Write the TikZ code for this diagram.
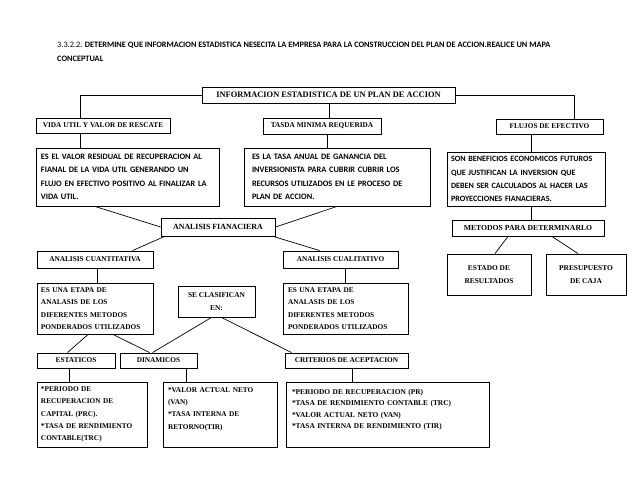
\documentclass[tikz,border=0pt]{standalone}
\usepackage{fontspec}
\setmainfont{Liberation Serif}
\newfontfamily\calfont{Carlito}
\begin{document}
\begin{tikzpicture}[x=1pt,y=-1pt,
  bx/.style={draw, line width=0.9pt, rectangle, inner sep=0pt},
  hdr/.style={bx, font=\bfseries\fontsize{7.3}{9}\selectfont, align=center},
  para/.style={bx, font=\calfont\bfseries\fontsize{8.3}{13.4}\selectfont, align=left},
  sblock/.style={bx, font=\bfseries\fontsize{7.3}{12.3}\selectfont, align=left},
  cn/.style={line width=0.7pt}]
\useasboundingbox[fill=white] (0,0) rectangle (638,493);

\node[anchor=north west, align=left, inner sep=0pt, font=\calfont\fontsize{8.3}{14}\selectfont] (title) at (57,41.5)
  {3.3.2.2. \textbf{DETERMINE QUE INFORMACION ESTADISTICA NESECITA LA EMPRESA PARA LA CONSTRUCCION DEL PLAN DE ACCION.REALICE UN MAPA}\\\textbf{CONCEPTUAL}};

\node[hdr, font=\bfseries\fontsize{8.4}{9}\selectfont, minimum width=253, minimum height=16] (info) at (328.5,95) {INFORMACION ESTADISTICA DE UN PLAN DE ACCION};
\node[hdr, minimum width=134, minimum height=15] (vida) at (103,125.5) {VIDA UTIL Y VALOR DE RESCATE};
\node[hdr, minimum width=118, minimum height=16] (tasda) at (322,126) {TASDA MINIMA REQUERIDA};
\node[hdr, minimum width=107, minimum height=15] (flujos) at (549.5,126.5) {FLUJOS DE EFECTIVO};

\node[para, minimum width=183, minimum height=58, text width=173] (valor) at (127.5,177)
  {ES EL VALOR RESIDUAL DE RECUPERACION AL\\FIANAL DE LA VIDA UTIL GENERANDO UN\\FLUJO EN EFECTIVO POSITIVO AL FINALIZAR LA\\VIDA UTIL.};
\node[para, minimum width=186, minimum height=58, text width=170] (tasa) at (337,177)
  {ES LA TASA ANUAL DE GANANCIA DEL\\INVERSIONISTA PARA CUBRIR CUBRIR LOS\\RECURSOS UTILIZADOS EN LE PROCESO DE\\PLAN DE ACCION.};
\node[para, font=\calfont\bfseries\fontsize{8.1}{13.2}\selectfont, minimum width=158, minimum height=54, text width=150] (benef) at (526,179)
  {SON BENEFICIOS ECONOMICOS FUTUROS\\QUE JUSTIFICAN LA INVERSION QUE\\DEBEN SER CALCULADOS AL HACER LAS\\PROYECCIONES FIANACIERAS.};

\node[hdr, font=\bfseries\fontsize{7.7}{9}\selectfont, minimum width=152, minimum height=16] (metodos) at (528,228) {METODOS PARA DETERMINARLO};
\node[hdr, font=\bfseries\fontsize{7.4}{13}\selectfont, minimum width=84, minimum height=41] (estado) at (489,274.5) {ESTADO DE\\RESULTADOS};
\node[hdr, font=\bfseries\fontsize{7.4}{13}\selectfont, minimum width=80, minimum height=41] (presup) at (586,274.5) {PRESUPUESTO\\DE CAJA};

\node[hdr, font=\bfseries\fontsize{7.9}{9}\selectfont, minimum width=114, minimum height=18] (analisis) at (218,227) {ANALISIS FIANACIERA};
\node[hdr, minimum width=116, minimum height=17] (cuanti) at (95,259.5) {ANALISIS CUANTITATIVA};
\node[hdr, minimum width=115, minimum height=17] (cuali) at (340.5,259.5) {ANALISIS CUALITATIVO};

\node[sblock, minimum width=116, minimum height=51, text width=108] (etapa1) at (95,308.5)
  {ES UNA ETAPA DE\\ANALASIS DE LOS\\DIFERENTES METODOS\\PONDERADOS UTILIZADOS};
\node[hdr, font=\bfseries\fontsize{7.4}{13}\selectfont, minimum width=77, minimum height=31] (clasif) at (216.5,301.5) {SE CLASIFICAN\\EN:};
\node[sblock, minimum width=125, minimum height=51, text width=115] (etapa2) at (345.5,308.5)
  {ES UNA ETAPA DE\\ANALASIS DE LOS\\DIFERENTES METODOS\\PONDERADOS UTILIZADOS};

\node[hdr, minimum width=78, minimum height=15] (estat) at (76,360.5) {ESTATICOS};
\node[hdr, minimum width=77, minimum height=15] (dinam) at (158.5,360.5) {DINAMICOS};
\node[hdr, minimum width=123, minimum height=15] (crit) at (346.5,360.5) {CRITERIOS DE ACEPTACION};

\node[sblock, minimum width=110, minimum height=65, text width=102] (per) at (92,414.5)
  {*PERIODO DE\\RECUPERACION DE\\CAPITAL (PRC).\\{}*TASA DE RENDIMIENTO\\CONTABLE(TRC)};
\node[sblock, minimum width=114, minimum height=65, text width=104] (van) at (220,414.5)
  {*VALOR ACTUAL NETO\\(VAN)\\{}*TASA INTERNA DE\\RETORNO(TIR)\\~};
\node[sblock, font=\bfseries\fontsize{7.4}{11.5}\selectfont, minimum width=203, minimum height=65, text width=191] (critlist) at (387.5,414.5)
  {*PERIODO DE RECUPERACION (PR)\\{}*TASA DE RENDIMIENTO CONTABLE (TRC)\\{}*VALOR ACTUAL NETO (VAN)\\{}*TASA INTERNA DE RENDIMIENTO (TIR)\\~};

% connectors
\draw[cn] (info.west) -| ([xshift=45pt]vida.north west);
\draw[cn] ([xshift=128pt]info.south west) -- ([xshift=128pt]info.south west |- tasda.north);
\draw[cn] (info.east) -| ([xshift=79pt]flujos.north west);
\draw[cn] ([xshift=45pt]vida.south west) -- ([xshift=45pt]vida.south west |- valor.north);
\draw[cn] ([xshift=65pt]tasda.south west) -- ([xshift=65pt]tasda.south west |- tasa.north);
\draw[cn] ([xshift=36pt]flujos.south west) -- ([xshift=36pt]flujos.south west |- benef.north);
\draw[cn] ([xshift=85pt]benef.south west) -- ([xshift=85pt]benef.south west |- metodos.north);
\draw[cn] ([xshift=-32.5pt]valor.south) -- (analisis.west);
\draw[cn] (tasa.south) -- (analisis.east);
\draw[cn] ([xshift=4pt]analisis.south west) -- ([xshift=96pt]cuanti.north west);
\draw[cn] ([xshift=-2pt]analisis.south east) -- ([xshift=37pt]cuali.north west);
\draw[cn] ([xshift=2pt]cuanti.south) -- ([xshift=2pt]cuanti.south |- etapa1.north);
\draw[cn] ([xshift=4.5pt]cuali.south) -- ([xshift=4.5pt]cuali.south |- etapa2.north);
\draw[cn] ([xshift=-7pt]etapa1.south) -- ([xshift=31pt]estat.north west);
\draw[cn] ([xshift=18pt]etapa1.south) -- ([xshift=30pt]dinam.north west);
\draw[cn] ([xshift=-5pt]clasif.south) -- ([xshift=33pt]dinam.north west);
\draw[cn] ([xshift=5pt]clasif.south) -- ([xshift=7pt]crit.north west);
\draw[cn] ([xshift=-7pt]estat.south) -- ([xshift=-7pt]estat.south |- per.north);
\draw[cn] ([xshift=27.5pt]dinam.south) -- ([xshift=27.5pt]dinam.south |- van.north);
\draw[cn] ([xshift=5.5pt]crit.south) -- ([xshift=5.5pt]crit.south |- critlist.north);
\draw[cn] ([xshift=-20pt]metodos.south) -- ([xshift=6pt]estado.north);
\draw[cn] ([xshift=24pt]metodos.south) -- ([xshift=-8pt]presup.north);
\end{tikzpicture}
\end{document}
